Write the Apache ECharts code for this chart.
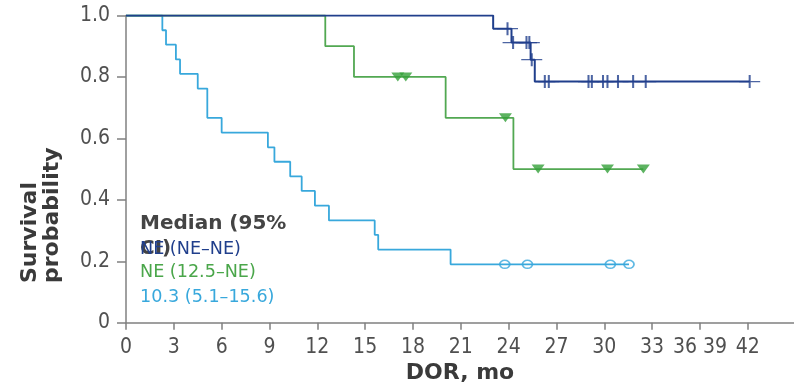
<!DOCTYPE html>
<html>
<head>
<meta charset="utf-8">
<script src="https://cdn.jsdelivr.net/npm/echarts@6/dist/echarts.min.js"></script>
<style>
  html, body { margin: 0; padding: 0; background: #ffffff; }
  #chart { width: 794px; height: 382px; }
</style>
</head>
<body>
<div id="chart"></div>
<script>
// Axis ticks and their printed labels
const xTicks = [0, 3, 6, 9, 12, 15, 18, 21, 24, 27, 30, 33, 36, 39];
const xTickLabels = ['0', '3', '6', '9', '12', '15', '18', '21', '24', '27', '30', '33', '36 39', '42'];
const yTicks = [0, 0.2, 0.4, 0.6, 0.8, 1.0];
const yTickLabels = ['0', '0.2', '0.4', '0.6', '0.8', '1.0'];

// Median (95% CI) per group, also used as series names
const groupLabels = ['NE (NE\u2013NE)', 'NE (12.5\u2013NE)', '10.3 (5.1\u201315.6)'];

// Kaplan-Meier curves: event times (months) and survival after each event; last entry is end of follow-up
const navyTimes = [0, 23.03, 24.18, 25.38, 25.64, 39.12];
const navySurv  = [1, 0.957, 0.912, 0.856, 0.785, 0.785];
const navyCensored = [23.93, 24.28, 25.12, 25.3, 25.45, 26.27, 26.52, 29.01, 29.22, 29.92, 30.2, 30.86, 31.81, 32.6, 39.12];

const greenTimes = [0, 12.5, 14.3, 20.05, 24.3, 32.45];
const greenSurv  = [1, 0.9, 0.8, 0.667, 0.5, 0.5];
const greenCensored = [17.05, 17.55, 23.8, 25.85, 30.2, 32.45];

const cyanTimes = [0, 2.28, 2.51, 3.13, 3.39, 4.5, 5.1, 6.0, 8.9, 9.31, 10.3, 11.02, 11.85, 12.73, 15.6, 15.82, 20.36, 31.55];
const cyanSurv  = [1, 0.952, 0.905, 0.857, 0.810, 0.762, 0.667, 0.619, 0.571, 0.524, 0.476, 0.429, 0.381, 0.333, 0.286, 0.238, 0.190, 0.190];
const cyanCensored = [23.76, 25.18, 30.38, 31.55];

const NAVY = '#203f8c';
const GREEN_LINE = '#52a852';
const GREEN_MARK = '#34a03a';
const CYAN = '#38a8dc';

const tickFont = '"DejaVu Sans Condensed", "Liberation Sans", sans-serif';
const textFont = '"DejaVu Sans", sans-serif';

function curve(times, surv) {
  return times.map((t, i) => [t, surv[i]]);
}
// survival level of a step curve at time t
function levelAt(times, surv, t) {
  let s = surv[0];
  for (let i = 0; i < times.length; i++) {
    if (times[i] <= t) s = surv[i];
  }
  return s;
}
function marks(times, surv, censored) {
  return censored.map(t => [t, levelAt(times, surv, t)]);
}

const chart = echarts.init(document.getElementById('chart'), null, { renderer: 'canvas' });

const axisGray = '#808080';

chart.setOption({
  animation: false,
  backgroundColor: '#ffffff',
  grid: { left: 126, right: 0, top: 15.5, bottom: 59.3, containLabel: false, outerBoundsMode: 'none' },
  xAxis: {
    type: 'value',
    min: 0,
    max: 41.9,
    interval: 3,
    name: 'DOR, mo',
    nameLocation: 'middle',
    nameGap: 39,
    nameTextStyle: { fontFamily: textFont, fontWeight: 'bold', fontSize: 22, color: '#3a3a3a' },
    axisLine: { lineStyle: { color: axisGray, width: 1.5 } },
    axisTick: { show: true, length: 7, lineStyle: { color: axisGray, width: 1.5 }, customValues: xTicks },
    axisLabel: {
      customValues: xTicks,
      margin: 14,
      fontFamily: tickFont,
      fontSize: 21,
      color: '#505050',
      formatter: v => {
        const i = xTicks.indexOf(v);
        return i >= 0 ? xTickLabels[i] : '';
      }
    },
    splitLine: { show: false }
  },
  yAxis: {
    type: 'value',
    min: 0,
    max: 1,
    interval: 0.2,
    axisLine: { show: true, lineStyle: { color: axisGray, width: 1.5 } },
    axisTick: { show: true, length: 9, lineStyle: { color: axisGray, width: 1.5 } },
    axisLabel: {
      margin: 16,
      fontFamily: tickFont,
      fontSize: 21,
      color: '#505050',
      formatter: v => yTickLabels[Math.round(v / 0.2)]
    },
    splitLine: { show: false }
  },
  graphic: [
    {
      type: 'text', x: 41, y: 283, rotation: Math.PI / 2,
      style: {
        text: 'Survival\nprobability',
        font: 'bold 22px "DejaVu Sans", sans-serif',
        fill: '#3a3a3a', align: 'left', verticalAlign: 'middle', lineHeight: 22
      }
    },
    {
      type: 'text', x: 140, y: 224,
      style: { text: 'Median (95%', font: 'bold 20px "DejaVu Sans", sans-serif', fill: '#444444', align: 'left', verticalAlign: 'middle' }
    },
    {
      type: 'text', x: 140, y: 249,
      style: { text: 'CI)', font: 'bold 20px "DejaVu Sans", sans-serif', fill: '#444444', align: 'left', verticalAlign: 'middle' }
    },
    {
      type: 'text', x: 140, y: 249,
      style: { text: groupLabels[0], font: '17.6px "DejaVu Sans", sans-serif', fill: NAVY, align: 'left', verticalAlign: 'middle' }
    },
    {
      type: 'text', x: 140, y: 272.5,
      style: { text: groupLabels[1], font: '17.6px "DejaVu Sans", sans-serif', fill: '#4aa64a', align: 'left', verticalAlign: 'middle' }
    },
    {
      type: 'text', x: 140, y: 297,
      style: { text: groupLabels[2], font: '17.6px "DejaVu Sans", sans-serif', fill: CYAN, align: 'left', verticalAlign: 'middle' }
    }
  ],
  series: [
    {
      name: groupLabels[2], type: 'line', step: 'end', symbol: 'none', z: 2,
      data: curve(cyanTimes, cyanSurv),
      lineStyle: { color: CYAN, width: 1.8 }
    },
    {
      name: groupLabels[1], type: 'line', step: 'end', symbol: 'none', z: 3,
      data: curve(greenTimes, greenSurv),
      lineStyle: { color: GREEN_LINE, width: 1.8 }
    },
    {
      name: groupLabels[0], type: 'line', step: 'end', symbol: 'none', z: 4,
      data: curve(navyTimes, navySurv),
      lineStyle: { color: NAVY, width: 2 }
    },
    {
      name: groupLabels[2] + ' censored', type: 'scatter', z: 5,
      symbol: 'circle', symbolSize: [10, 8],
      data: marks(cyanTimes, cyanSurv, cyanCensored),
      itemStyle: { color: 'rgba(0,0,0,0)', borderColor: CYAN, borderWidth: 1.6 }
    },
    {
      name: groupLabels[1] + ' censored', type: 'scatter', z: 5,
      symbol: 'triangle', symbolRotate: 180, symbolSize: [13, 9],
      data: marks(greenTimes, greenSurv, greenCensored),
      itemStyle: { color: GREEN_MARK }
    },
    {
      name: groupLabels[0] + ' censored', type: 'scatter', z: 6,
      symbol: 'path://M10,0 L10,13 M0,6.5 L20,6.5', symbolSize: [21, 13],
      data: marks(navyTimes, navySurv, navyCensored),
      itemStyle: { color: 'rgba(0,0,0,0)', borderColor: NAVY, borderWidth: 1.6 }
    }
  ]
});
</script>
</body>
</html>
